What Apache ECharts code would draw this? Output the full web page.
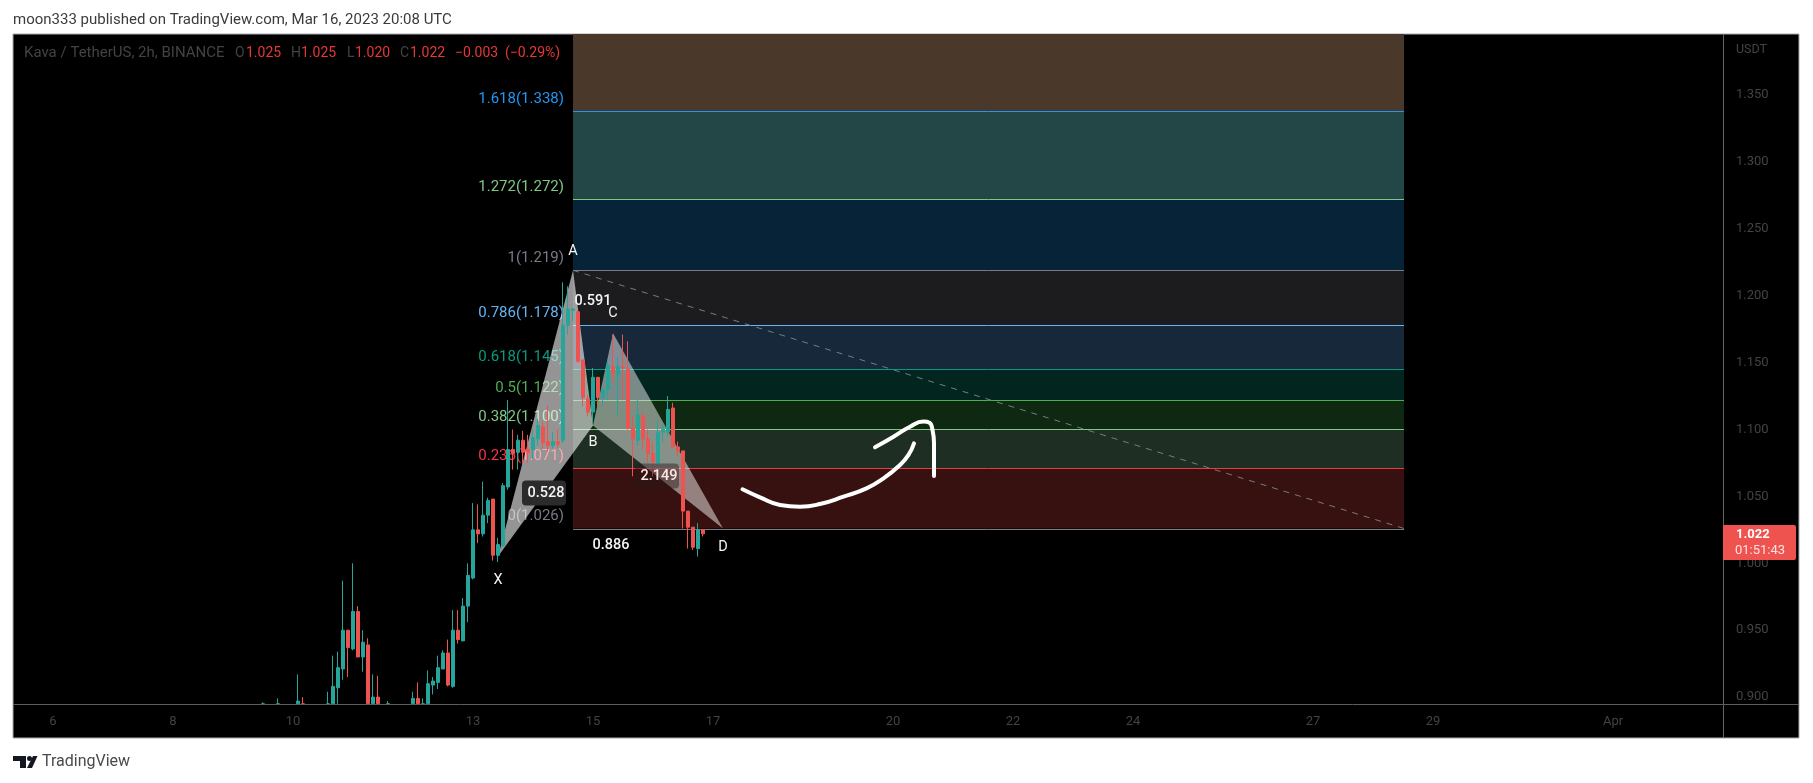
<!DOCTYPE html>
<html>
<head>
<meta charset="utf-8">
<title>Kava / TetherUS</title>
<script src="https://cdn.jsdelivr.net/npm/echarts@6/dist/echarts.min.js"></script>
<style>
  html, body { margin: 0; padding: 0; background: #fff; }
  #chart { width: 1813px; height: 783px; }
</style>
</head>
<body>
<div id="chart"></div>
<script>
// x = 2h bar number, bar 0 is Mar 5 08:00
var dayTicks = [8, 32, 56, 92, 116, 140, 176, 200, 224, 260, 284, 320];
var dayLabels = ['6', '8', '10', '13', '15', '17', '20', '22', '24', '27', '29', 'Apr'];
var priceTicks = [0.9, 0.95, 1.0, 1.05, 1.1, 1.15, 1.2, 1.25, 1.3, 1.35];

// bar, open, close, low, high (.895 = cut by the bottom of the pane)
var candleRows = [
  [50, .895, .895, .895, .896], [53, .895, .895, .895, .899], [57, .895, .897, .895, .917],
  [58, .895, .895, .895, .9], [63, .895, .895, .895, .904], [64, .895, .908, .895, .931],
  [65, .907, .922, .895, .934], [66, .921, .95, .913, .987], [67, .95, .937, .915, .95],
  [68, .936, .964, .935, 1.0], [69, .964, .93, .93, .968], [70, .93, .941, .919, .95],
  [71, .939, .895, .895, .944], [72, .895, .9, .895, .917], [73, .9, .895, .895, .916],
  [75, .895, .895, .895, .897], [80, .895, .899, .895, .904], [81, .899, .895, .895, .911],
  [82, .895, .895, .895, .899], [83, .895, .91, .895, .92], [84, .909, .912, .902, .915],
  [85, .911, .922, .906, .931], [86, .921, .933, .921, .935], [87, .933, .909, .908, .943],
  [88, .908, .95, .907, .965], [89, .95, .943, .94, .965], [90, .942, .968, .942, .974],
  [91, .968, .991, .956, 1.0], [92, .989, 1.025, .988, 1.045], [93, 1.025, 1.022, 1.015, 1.044],
  [94, 1.022, 1.036, 1.02, 1.061], [95, 1.036, 1.047, 1.03, 1.049], [96, 1.048, 1.006, 1.002, 1.048],
  [97, 1.006, 1.014, 1.001, 1.019], [98, 1.013, 1.058, 1.013, 1.06], [99, 1.057, 1.085, 1.055, 1.122],
  [100, 1.085, 1.082, 1.07, 1.1], [101, 1.083, 1.092, 1.07, 1.096], [102, 1.092, 1.083, 1.074, 1.099],
  [103, 1.085, 1.083, 1.075, 1.096], [104, 1.085, 1.094, 1.078, 1.1], [105, 1.093, 1.103, 1.088, 1.108],
  [106, 1.102, 1.09, 1.086, 1.106], [107, 1.091, 1.088, 1.084, 1.118], [108, 1.088, 1.091, 1.086, 1.098],
  [109, 1.091, 1.089, 1.086, 1.1], [110, 1.092, 1.178, 1.09, 1.21], [111, 1.178, 1.19, 1.171, 1.207],
  [112, 1.189, 1.19, 1.181, 1.191], [113, 1.188, 1.151, 1.15, 1.189], [114, 1.152, 1.124, 1.117, 1.152],
  [115, 1.123, 1.113, 1.11, 1.126], [116, 1.113, 1.139, 1.105, 1.146], [117, 1.139, 1.124, 1.117, 1.139],
  [118, 1.124, 1.13, 1.117, 1.13], [119, 1.13, 1.148, 1.122, 1.152], [120, 1.147, 1.142, 1.135, 1.171],
  [121, 1.141, 1.147, 1.11, 1.154], [122, 1.147, 1.146, 1.122, 1.171], [123, 1.145, 1.101, 1.1, 1.166],
  [124, 1.101, 1.093, 1.065, 1.11], [125, 1.092, 1.111, 1.088, 1.122], [126, 1.11, 1.093, 1.085, 1.113],
  [127, 1.093, 1.082, 1.075, 1.1], [128, 1.082, 1.076, 1.065, 1.09], [129, 1.075, 1.098, 1.075, 1.107],
  [130, 1.098, 1.1, 1.09, 1.104], [131, 1.098, 1.115, 1.095, 1.125], [132, 1.116, 1.087, 1.087, 1.12],
  [133, 1.087, 1.084, 1.08, 1.091], [134, 1.084, 1.039, 1.026, 1.084], [135, 1.039, 1.027, 1.011, 1.039],
  [136, 1.027, 1.012, 1.01, 1.027], [137, 1.011, 1.025, 1.005, 1.03], [138, 1.025, 1.022, 1.02, 1.025]
];

// fib retracement, top band runs past the pane
var fibFrom = 112, fibTo = 278.2, fibTop = 1.41;
var fibRatios = ['1.618', '1.272', '1', '0.786', '0.618', '0.5', '0.382', '0.236', '0'];
var fibPrices = [1.338, 1.272, 1.219, 1.178, 1.145, 1.122, 1.100, 1.071, 1.026];
var fibLineColors = ['#2196f3', '#81c784', '#787b86', '#64b5f6', '#089981', '#4caf50', '#81c784', '#f23645', '#787b86'];
var fibBandColors = ['#4a392a', '#234747', '#072338', '#1c1c1e', '#16283a', '#03251f', '#0f2812', '#1f2e23', '#37110f'];
var fibTrend = [[112, 1.219], [278.2, 1.026]];

// XABCD pattern
var triangleXAB = [[97, 1.005], [112, 1.219], [116, 1.103]];
var triangleBCD = [[116, 1.103], [120, 1.172], [142, 1.026]];
var patternTexts = ['A', 'X', 'B', 'C', 'D', '0.591', '0.886', '2.149', '0.528'];
var patternTextX = [112, 97, 116, 120, 142, 116, 119.6, 129.2, 106.6];
var patternTextY = [1.2334, 0.9875, 1.0907, 1.1871, 1.0122, 1.196, 1.0137, 1.0652, 1.0525];

// hand drawn arrow
var arrowBody = [[145.9, 1.0553], [149.4, 1.0493], [153.4, 1.0436], [157.4, 1.0423], [161.4, 1.0443],
  [166.1, 1.0498], [170.7, 1.056], [174.1, 1.0635], [177.4, 1.0735], [179.1, 1.081], [180.2, 1.0897]];
var arrowHead = [[172.4, 1.0867], [176.1, 1.0946], [179.4, 1.1021], [182.1, 1.1059], [183.3, 1.1051],
  [183.9, 1.0996], [184.2, 1.0897], [184.2, 1.0652]];

var legendTexts = ['Kava / TetherUS, 2h, BINANCE', 'O', '1.025', 'H', '1.025', 'L', '1.020', 'C', '1.022', '\u22120.003', '(\u22120.29%)'];
var legendX = [24, 235, 246, 291, 301, 347, 355, 400, 410, 455, 505];
var legendRed = [false, false, true, false, true, false, true, false, true, true, true];

var fontName = 'Roboto, sans-serif';
var dim = '#434343';
var candleRed = '#ef5350', candleGreen = '#26a69a';

var chart = echarts.init(document.getElementById('chart'));

function polygonSeries(points, alpha) {
  return {
    type: 'custom',
    coordinateSystem: 'cartesian2d',
    z: 2,
    silent: true,
    clip: true,
    data: points,
    renderItem: function (params, api) {
      if (params.dataIndex !== 0) return null;
      return {
        type: 'polygon',
        shape: { points: points.map(function (p) { return api.coord(p); }) },
        style: { fill: 'rgba(255,255,255,' + alpha + ')' }
      };
    }
  };
}

function arrowSeries(points) {
  return {
    type: 'line',
    data: points,
    z: 4,
    smooth: true,
    symbol: 'none',
    silent: true,
    lineStyle: { color: '#ffffff', width: 4, cap: 'round', join: 'round' }
  };
}

var graphics = [
  // panel
  { type: 'rect', z: -10, shape: { x: 13, y: 34, width: 1786, height: 704 }, style: { fill: '#000', stroke: '#a8abb3', lineWidth: 1 } },
  { type: 'line', z: 10, shape: { x1: 1723.5, y1: 34, x2: 1723.5, y2: 738 }, style: { stroke: '#666', lineWidth: 1 } },
  { type: 'line', z: 10, shape: { x1: 13, y1: 704.5, x2: 1799, y2: 704.5 }, style: { stroke: '#5d5d5d', lineWidth: 1 } },
  { type: 'text', z: 10, style: { text: 'moon333 published on TradingView.com, Mar 16, 2023 20:08 UTC', x: 13, y: 20, fill: '#3b3b3b', font: '15px ' + fontName, verticalAlign: 'middle' } },
  { type: 'text', z: 10, style: { text: 'USDT', x: 1736, y: 50, fill: dim, font: '12.5px ' + fontName, verticalAlign: 'middle' } },
  // last price tag
  { type: 'rect', z: 11, shape: { x: 1723, y: 525, width: 73, height: 35, r: [0, 2, 2, 0] }, style: { fill: candleRed } },
  { type: 'text', z: 12, style: { text: '1.022', x: 1736, y: 535, fill: '#fff', font: 'bold 13px ' + fontName, verticalAlign: 'middle' } },
  { type: 'text', z: 12, style: { text: '01:51:43', x: 1735, y: 551, fill: '#ffe3e1', font: '13px ' + fontName, verticalAlign: 'middle' } },
  // logo
  { type: 'polygon', z: 10, shape: { points: [[13, 756], [26, 756], [26, 768], [20, 768], [20, 761], [13, 761]] }, style: { fill: '#131722' } },
  { type: 'circle', z: 10, shape: { cx: 29.5, cy: 758.5, r: 2.5 }, style: { fill: '#131722' } },
  { type: 'polygon', z: 10, shape: { points: [[33, 756], [37.5, 756], [32, 768], [27, 768]] }, style: { fill: '#131722' } },
  { type: 'text', z: 10, style: { text: 'TradingView', x: 42, y: 762, fill: '#4a4a4a', font: '16px ' + fontName, verticalAlign: 'middle' } }
];
legendTexts.forEach(function (t, k) {
  graphics.push({
    type: 'text', z: 10,
    style: { text: t, x: legendX[k], y: 53, fill: legendRed[k] ? '#e53935' : dim, font: (k === 0 ? '15px ' : '14px ') + fontName, verticalAlign: 'middle' }
  });
});

chart.setOption({
  animation: false,
  backgroundColor: '#fff',
  grid: { left: 13, top: 34, width: 1710, height: 670 },
  xAxis: {
    type: 'value',
    min: 0,
    max: 342,
    splitLine: { show: false },
    axisLine: { show: false },
    axisTick: { show: false },
    axisLabel: {
      customValues: dayTicks,
      margin: 11,
      color: dim,
      fontFamily: 'Roboto',
      fontSize: 13,
      formatter: function (v) { return dayLabels[dayTicks.indexOf(v)]; }
    }
  },
  yAxis: {
    type: 'value',
    position: 'right',
    min: 0.89484,
    max: 1.39559,
    splitLine: { show: false },
    axisLine: { show: false },
    axisTick: { show: false },
    axisLabel: {
      customValues: priceTicks,
      margin: 13,
      padding: [4, 0, 0, 0],
      color: dim,
      fontFamily: 'Roboto',
      fontSize: 13,
      formatter: function (v) { return v.toFixed(3); }
    }
  },
  graphic: graphics,
  series: [
    {
      // fib bands, lines and labels
      type: 'custom',
      coordinateSystem: 'cartesian2d',
      z: 1,
      silent: true,
      clip: true,
      data: fibPrices.map(function (p) { return [fibFrom, p]; }),
      renderItem: function (params, api) {
        var k = params.dataIndex;
        var top = k === 0 ? fibTop : fibPrices[k - 1];
        var a = api.coord([fibFrom, top]);
        var b = api.coord([fibTo, fibPrices[k]]);
        var lineY = Math.round(b[1]) + 0.5;
        return {
          type: 'group',
          children: [
            { type: 'rect', z2: 1, shape: { x: a[0], y: a[1], width: b[0] - a[0], height: b[1] - a[1] }, style: { fill: fibBandColors[k] } },
            { type: 'line', z2: 10, shape: { x1: a[0], y1: lineY, x2: b[0], y2: lineY }, style: { stroke: fibLineColors[k], lineWidth: 1 } },
            { type: 'text', z2: 10, style: { text: fibRatios[k] + '(' + fibPrices[k].toFixed(3) + ')', x: a[0] - 9, y: b[1] - 12, fill: fibLineColors[k], font: '15px ' + fontName, align: 'right', verticalAlign: 'middle' } }
          ]
        };
      }
    },
    {
      type: 'line',
      data: fibTrend,
      z: 1,
      zlevel: 0,
      symbol: 'none',
      silent: true,
      lineStyle: { color: '#787b86', width: 1, type: [6, 6] }
    },
    polygonSeries(triangleXAB, 0.58),
    polygonSeries(triangleBCD, 0.47),
    {
      type: 'candlestick',
      data: candleRows,
      encode: { x: 0, y: [1, 2, 3, 4] },
      z: 3,
      barWidth: 4,
      clip: true,
      silent: true,
      itemStyle: {
        color: candleGreen, color0: candleRed,
        borderColor: candleGreen, borderColor0: candleRed,
        borderWidth: 1
      }
    },
    arrowSeries(arrowBody),
    arrowSeries(arrowHead),
    {
      // pattern labels
      type: 'custom',
      coordinateSystem: 'cartesian2d',
      z: 5,
      silent: true,
      data: patternTexts.map(function (t, k) { return [patternTextX[k], patternTextY[k]]; }),
      renderItem: function (params, api) {
        var k = params.dataIndex;
        var c = api.coord([patternTextX[k], patternTextY[k]]);
        var boxed = patternTexts[k] === '0.528';
        var soft = patternTexts[k] === '2.149';
        var children = [];
        if (boxed || soft) {
          children.push({
            type: 'rect',
            shape: { x: c[0] - 24, y: c[1] - 12.5, width: 44, height: 25, r: 4 },
            style: { fill: boxed ? '#2b2b2b' : 'rgba(40,25,25,0.45)' }
          });
        }
        children.push({
          type: 'text',
          style: { text: patternTexts[k], x: c[0], y: c[1], fill: soft ? '#ffe6e2' : '#f4f4f4', font: (k > 4 ? '500 ' : '') + '14.5px ' + fontName, align: 'center', verticalAlign: 'middle' }
        });
        return { type: 'group', children: children };
      }
    }
  ]
});
</script>
</body>
</html>
